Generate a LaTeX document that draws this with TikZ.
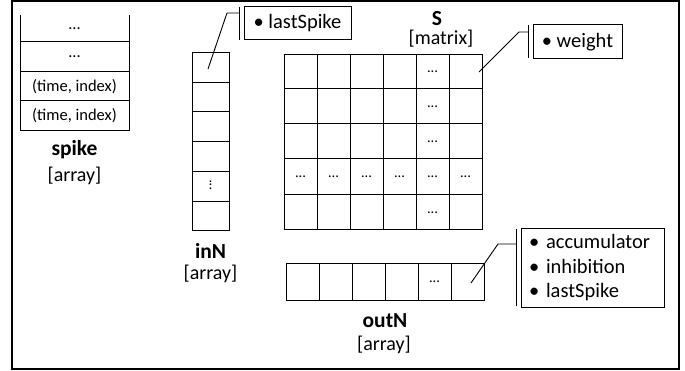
\documentclass[tikz,border=0pt]{standalone}
\usepackage{fontspec}
\setmainfont{Carlito}
\begin{document}
\begin{tikzpicture}[x=1pt,y=-1pt,
  cell/.style={line width=1pt},
  lbl/.style={font=\fontsize{21.5}{24}\selectfont\bfseries, inner sep=0pt},
  typ/.style={font=\fontsize{20}{23}\selectfont, inner sep=0pt},
  entry/.style={font=\fontsize{16.5}{19}\selectfont, inner sep=0pt},
  dots/.style={font=\fontsize{14.5}{16}\selectfont, inner sep=0pt},
  attrbox/.style={draw, line width=1pt, inner sep=0pt, font=\fontsize{20.5}{24.5}\selectfont, align=left},
  callout/.style={line width=0.9pt},
  bar/.style={line width=1pt}]
\useasboundingbox (0,0) rectangle (685,371);
\draw[line width=1.8pt] (12,1.2) rectangle (679,369);

% ---------- spike array ----------
\draw[cell] (20,15) -- (20,131) -- (129,131) -- (129,15);
\foreach \y in {42,72,101} \draw[cell] (20,\y) -- (129,\y);
\node[entry] (sp1) at (74.5,29) {...};
\node[entry] (sp2) at (74.5,57) {...};
\node[entry] (sp3) at (74.5,86.5) {(time, index)};
\node[entry] (sp4) at (74.5,116) {(time, index)};
\node[lbl] (spikeL) at (74.5,150) {spike};
\node[typ] (spikeT) at (74.5,175.5) {[array]};

% ---------- inN array ----------
\draw[cell] (192,53) rectangle (229,231);
\foreach \y in {83,112,142,172,202} \draw[cell] (192,\y) -- (229,\y);
\node[dots,rotate=90] (inDots) at (210.5,185) {...};
\coordinate (inC1) at (208,69);
\node[lbl] (inNL) at (210.5,251) {inN};
\node[typ] (inNT) at (210.5,273.5) {[array]};

% ---------- S matrix ----------
\draw[cell] (284,55) rectangle (482,230);
\foreach \x in {317,350,383,416,449} \draw[cell] (\x,55) -- (\x,230);
\foreach \y in {89,124,159,195} \draw[cell] (284,\y) -- (482,\y);
\foreach \y [count=\i] in {72,106.5,141.5,212.5} \node[dots] (sc\i) at (432.5,\y) {...};
\foreach \x [count=\i] in {300.5,333.5,366.5,399.5,432.5,465.5} \node[dots] (sr\i) at (\x,177) {...};
\coordinate (sC) at (479,72);
\node[lbl] (SL) at (437,19) {S};
\node[typ] (ST) at (441,39) {[matrix]};

% ---------- outN array ----------
\draw[cell] (286,264) rectangle (484,300);
\foreach \x in {319,352,385,418,451} \draw[cell] (\x,264) -- (\x,300);
\node[dots] (outDots) at (434.5,282) {...};
\coordinate (outC) at (471,283);
\node[lbl] (outNL) at (385,321) {outN};
\node[typ] (outNT) at (384,345) {[array]};

% ---------- callouts ----------
\node[attrbox, minimum width=107pt, minimum height=33pt] (lsBox) at (297.5,23.5) {\textbullet\ lastSpike};
\coordinate (lsE) at (227,13);
\coordinate (lsB) at (239,13);
\draw[bar] (239,7) -- (239,40);
\draw[callout] (inC1) -- (lsE) -- (lsB);

\node[attrbox, minimum width=89pt, minimum height=34pt] (wBox) at (577.5,42) {\textbullet\ weight};
\coordinate (wE) at (519,32);
\coordinate (wB) at (528,32);
\draw[bar] (528,25) -- (528,58);
\draw[callout] (sC) -- (wE) -- (wB);

\node[attrbox, minimum width=143pt, minimum height=78pt, text width=127pt, inner xsep=8pt] (oBox) at (592.5,268)
  {\textbullet\ accumulator\\ \textbullet\ inhibition\\ \textbullet\ lastSpike};
\coordinate (oE) at (498,244);
\coordinate (oB) at (516,244);
\draw[bar] (516,229) -- (516,306);
\draw[callout] (outC) -- (oE) -- (oB);
\end{tikzpicture}
\end{document}
